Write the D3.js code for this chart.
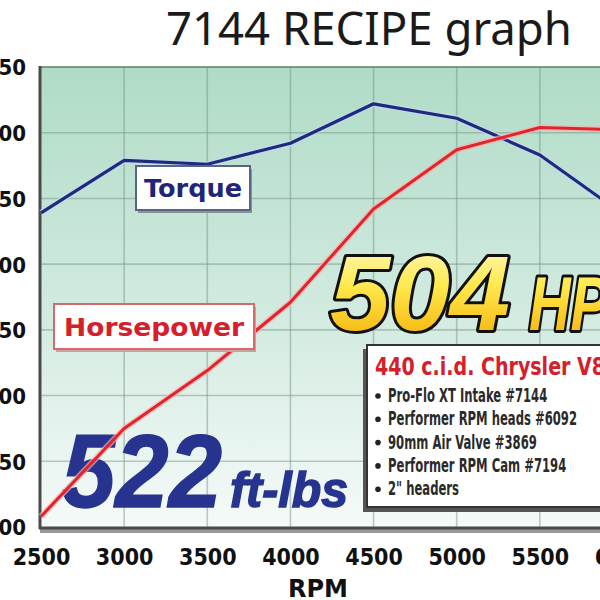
<!DOCTYPE html>
<html>
<head>
<meta charset="utf-8">
<script src="https://cdn.jsdelivr.net/npm/d3@7"></script>
<style>
  html, body { margin: 0; padding: 0; background: #fff; }
  svg { display: block; }
</style>
</head>
<body>
<svg id="chart" width="600" height="600"></svg>
<script>
// ---- data ----
const rpm = [2500, 3000, 3500, 4000, 4500, 5000, 5500, 6000];
const torque = [439, 479, 476, 492, 522, 511, 483, 438];
const horsepower = [208, 275, 319, 371, 442, 487, 504, 502];
const yTicks = [200, 250, 300, 350, 400, 450, 500, 550];
const titleText = "7144 RECIPE graph";
const xTitle = "RPM";
const infoTitle = "440 c.i.d. Chrysler V8";
const infoLines = [
  "Pro-Flo XT Intake #7144",
  "Performer RPM heads #6092",
  "90mm Air Valve #3869",
  "Performer RPM Cam #7194",
  "2\" headers"
];
const peakTorque = "522", torqueUnit = "ft-lbs";
const peakHp = "504", hpUnit = "HP";

// ---- layout ----
const svg = d3.select("#chart");
const pLeft = 41, pTop = 67, pBottom = 527, pRight = 680;
const x = d3.scaleLinear().domain([2500, 6000]).range([41, 623]);
const y = d3.scaleLinear().domain([200, 550]).range([pBottom, pTop]);

const defs = svg.append("defs");
const bg = defs.append("linearGradient").attr("id", "bg").attr("x1", 0).attr("y1", 0).attr("x2", 0).attr("y2", 1);
bg.append("stop").attr("offset", "0%").attr("stop-color", "#afdbc6");
bg.append("stop").attr("offset", "55%").attr("stop-color", "#d3ebe1");
bg.append("stop").attr("offset", "100%").attr("stop-color", "#f5faf8");
const yel = defs.append("linearGradient").attr("id", "yel").attr("x1", 0).attr("y1", 0).attr("x2", 0).attr("y2", 1);
yel.append("stop").attr("offset", "0%").attr("stop-color", "#fffbd0");
yel.append("stop").attr("offset", "45%").attr("stop-color", "#ffe84a");
yel.append("stop").attr("offset", "100%").attr("stop-color", "#f2a800");

// Title
svg.append("text").attr("x", 166).attr("y", 45)
  .attr("textLength", 406).attr("lengthAdjust", "spacingAndGlyphs")
  .attr("font-family", "Noto Sans, Open Sans, sans-serif").attr("font-size", 45)
  .attr("fill", "#1a1a1a").text(titleText);

// Plot shadow + background
svg.append("rect").attr("x", pLeft - 1).attr("y", pTop + 2).attr("width", pRight - pLeft).attr("height", pBottom - pTop + 4)
  .attr("fill", "#9a9a9a");
svg.append("rect").attr("x", pLeft).attr("y", pTop).attr("width", pRight - pLeft).attr("height", pBottom - pTop)
  .attr("fill", "url(#bg)");

// Gridlines
const grid = svg.append("g");
grid.selectAll(".gy").data(yTicks.slice(1, -1)).join("line")
  .attr("x1", pLeft).attr("x2", pRight).attr("y1", d => y(d)).attr("y2", d => y(d))
  .attr("stroke", "#6f8f80").attr("stroke-opacity", 0.45).attr("stroke-width", 1.6);
grid.selectAll(".gx").data(rpm.slice(1)).join("line")
  .attr("y1", pTop).attr("y2", pBottom).attr("x1", d => x(d)).attr("x2", d => x(d))
  .attr("stroke", "#6f8f80").attr("stroke-opacity", 0.45).attr("stroke-width", 1.6);

// Borders
svg.append("line").attr("x1", pLeft).attr("x2", pRight).attr("y1", pTop).attr("y2", pTop)
  .attr("stroke", "#5f7a6c").attr("stroke-width", 1.5);
svg.append("line").attr("x1", pLeft - 1).attr("x2", pLeft - 1).attr("y1", pTop - 1).attr("y2", pBottom + 2)
  .attr("stroke", "#4a4a4a").attr("stroke-width", 3);
svg.append("line").attr("x1", pLeft - 2).attr("x2", pRight).attr("y1", pBottom + 1).attr("y2", pBottom + 1)
  .attr("stroke", "#4a4a4a").attr("stroke-width", 3);

// Axes (labels)
const yAxis = svg.append("g").attr("transform", `translate(${pLeft},0)`)
  .call(d3.axisLeft(y).tickValues(yTicks).tickSize(0).tickPadding(15).tickFormat(d3.format("d")));
yAxis.select(".domain").remove();
yAxis.selectAll("text").attr("font-family", "DejaVu Sans Condensed, DejaVu Sans, sans-serif")
  .attr("font-weight", "bold").attr("font-size", 22).attr("fill", "#111").attr("dy", "0.36em");

const xAxis = svg.append("g").attr("transform", `translate(0,${pBottom})`)
  .call(d3.axisBottom(x).tickValues(rpm).tickSize(0).tickPadding(22).tickFormat(d3.format("d")));
xAxis.select(".domain").remove();
xAxis.selectAll("text").attr("font-family", "DejaVu Sans Condensed, DejaVu Sans, sans-serif")
  .attr("font-weight", "bold").attr("font-size", 23).attr("fill", "#111");

svg.append("text").attr("x", 318).attr("y", 597).attr("text-anchor", "middle")
  .attr("font-family", "DejaVu Sans, sans-serif").attr("font-weight", "bold").attr("font-size", 24)
  .attr("fill", "#111").text(xTitle);

// Big torque figure (under lines)
const tq = svg.append("text").attr("y", 507)
  .attr("font-family", "Liberation Sans, Arial, sans-serif").attr("font-weight", "bold").attr("font-style", "italic")
  .attr("fill", "#27348f").attr("stroke", "#27348f").attr("stroke-width", 1.5);
tq.append("tspan").attr("x", 62).attr("font-size", 104).attr("textLength", 160).attr("lengthAdjust", "spacingAndGlyphs").text(peakTorque);
tq.append("tspan").attr("x", 230).attr("font-size", 50).attr("textLength", 118).attr("lengthAdjust", "spacingAndGlyphs").text(torqueUnit);

// Lines
const line = (vals) => d3.line().x((d, i) => x(rpm[i])).y(d => y(d))(vals);
svg.append("path").attr("d", line(torque)).attr("fill", "none").attr("stroke", "#c8d8f0").attr("stroke-width", 6).attr("stroke-opacity", 0.7);
svg.append("path").attr("d", line(torque)).attr("fill", "none").attr("stroke", "#1d2a7e").attr("stroke-width", 3.2).attr("stroke-linejoin", "round");
svg.append("path").attr("d", line(horsepower)).attr("fill", "none").attr("stroke", "#f7b0b0").attr("stroke-width", 6).attr("stroke-opacity", 0.7);
svg.append("path").attr("d", line(horsepower)).attr("fill", "none").attr("stroke", "#e3232b").attr("stroke-width", 3).attr("stroke-linejoin", "round");

// Series labels
function labelBox(x0, y0, w, h, border, shadow, txt, color, tl) {
  svg.append("rect").attr("x", x0 + 2).attr("y", y0 + 3).attr("width", w).attr("height", h).attr("fill", shadow);
  svg.append("rect").attr("x", x0).attr("y", y0).attr("width", w).attr("height", h)
    .attr("fill", "#fff").attr("stroke", border).attr("stroke-width", 2);
  svg.append("text").attr("x", x0 + w / 2).attr("y", y0 + h / 2 + 9).attr("text-anchor", "middle")
    .attr("textLength", tl).attr("lengthAdjust", "spacingAndGlyphs")
    .attr("font-family", "DejaVu Sans, sans-serif").attr("font-weight", "bold").attr("font-size", 25)
    .attr("fill", color).text(txt);
}
labelBox(136, 166, 114, 44, "#5a6488", "#8a8f9a", "Torque", "#1f267a", 98);
labelBox(54, 304, 200, 45, "#d66a6a", "#c9a0a0", "Horsepower", "#d4202a", 180);

// Big HP figure
const hpT = svg.append("text").attr("y", 330)
  .attr("font-family", "Liberation Sans, Arial, sans-serif").attr("font-weight", "bold").attr("font-style", "italic")
  .attr("fill", "url(#yel)").attr("stroke", "#111").attr("stroke-width", 6).attr("stroke-linejoin", "round")
  .attr("paint-order", "stroke");
hpT.append("tspan").attr("x", 330).attr("font-size", 106).attr("textLength", 180).attr("lengthAdjust", "spacingAndGlyphs").text(peakHp);
hpT.append("tspan").attr("x", 529).attr("font-size", 76).attr("textLength", 80).attr("lengthAdjust", "spacingAndGlyphs").text(hpUnit);

// Info box
svg.append("rect").attr("x", 363).attr("y", 349).attr("width", 280).attr("height", 163).attr("fill", "#555");
svg.append("rect").attr("x", 367).attr("y", 345).attr("width", 280).attr("height", 162)
  .attr("fill", "#fff").attr("stroke", "#333").attr("stroke-width", 2);
svg.append("text").attr("x", 375).attr("y", 375)
  .attr("textLength", 230).attr("lengthAdjust", "spacingAndGlyphs")
  .attr("font-family", "DejaVu Sans Condensed, DejaVu Sans, sans-serif").attr("font-weight", "bold").attr("font-size", 25)
  .attr("fill", "#d4202a").text(infoTitle);
const info = svg.append("g");
info.selectAll("circle").data(infoLines).join("circle")
  .attr("cx", 378).attr("cy", (d, i) => 396 + i * 23.3).attr("r", 2.8).attr("fill", "#222");
info.selectAll("text").data(infoLines).join("text")
  .attr("transform", (d, i) => `translate(388,${402 + i * 23.3}) scale(0.68,1)`)
  .attr("font-family", "DejaVu Sans Condensed, DejaVu Sans, sans-serif").attr("font-weight", "bold").attr("font-size", 19)
  .attr("fill", "#2a2a2a").text(d => d);
</script>
</body>
</html>
